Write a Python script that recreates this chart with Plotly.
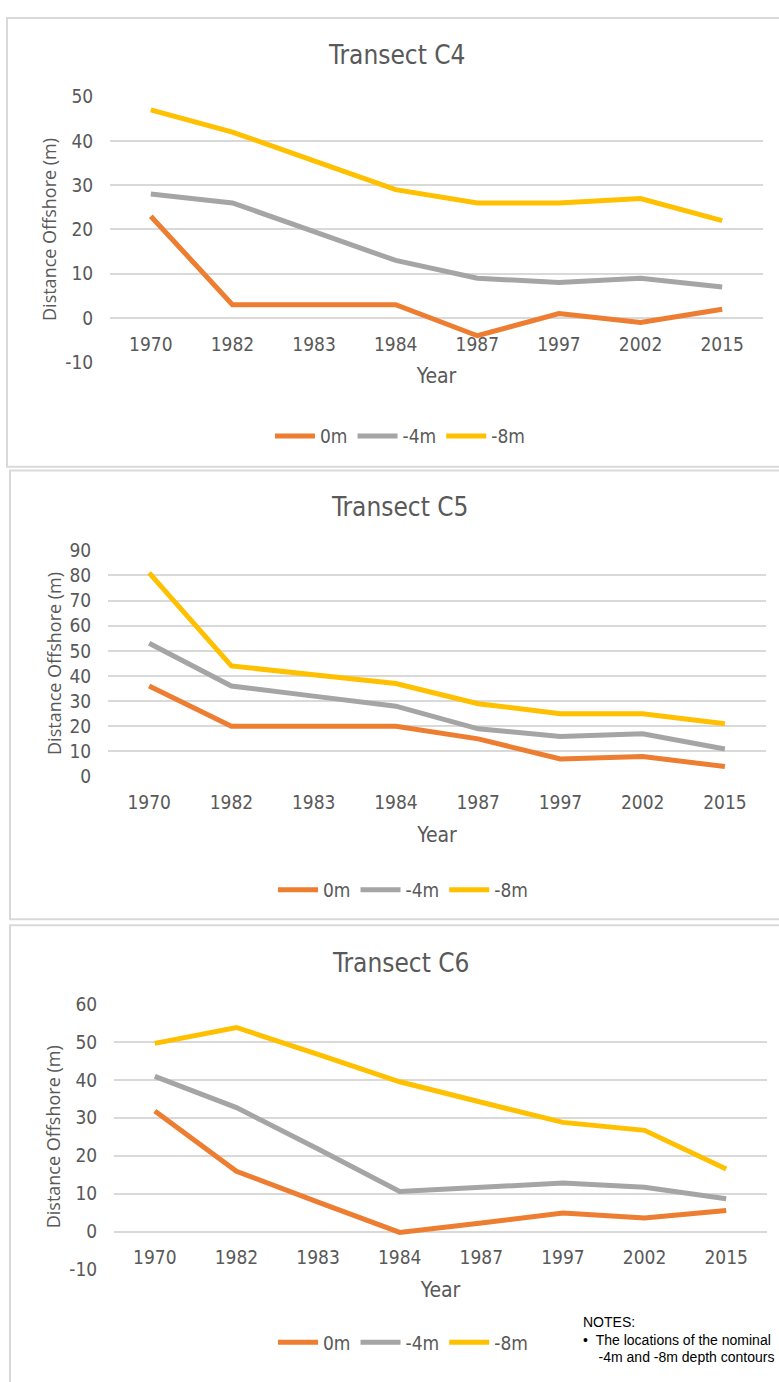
import plotly.graph_objects as go

# ---- data -------------------------------------------------------------
years = ["1970", "1982", "1983", "1984", "1987", "1997", "2002", "2015"]
depth_labels = ["0m", "-4m", "-8m"]

c4_0m = [23, 3, 3, 3, -4, 1, -1, 2]
c4_4m = [28, 26, 19.5, 13, 9, 8, 9, 7]
c4_8m = [47, 42, 35.5, 29, 26, 26, 27, 22]

c5_0m = [36, 20, 20, 20, 15, 7, 8, 4]
c5_4m = [53, 36, 32, 28, 19, 16, 17, 11]
c5_8m = [81, 44, 40.5, 37, 29, 25, 25, 21]

c6_0m = [31.8, 15.9, 7.8, -0.2, 2.3, 4.9, 3.6, 5.6]
c6_4m = [40.9, 32.7, 21.8, 10.6, 11.7, 12.8, 11.7, 8.7]
c6_8m = [49.6, 53.8, 46.7, 39.5, 34.1, 28.8, 26.7, 16.5]

titles = ["Transect C4", "Transect C5", "Transect C6"]
y_ranges = [(-10, 50), (0, 90), (-10, 60)]
notes = ["NOTES:",
         "\u2022  The locations of the nominal",
         "    -4m and -8m depth contours"]

# ---- styling ------------------------------------------------------------
W, H = 779, 1382
COLORS = ["#ED7D31", "#A5A5A5", "#FFC000"]
TXT = "#595959"
GRID = "#D9D9D9"
NARROW = "Liberation Sans Narrow, DejaVu Sans Condensed, Arial Narrow, sans-serif"
WIDE = "Open Sans, Noto Sans, sans-serif"


def px(x):
    return x / W


def py(y):
    return 1 - y / H


# pixel layout of each panel: frame, plot area, title, legend
panels = [
    dict(frame=(7, 7, 800, 463), plot=(110, 87, 763, 357), title=(397, 45), legend=(400, 432)),
    dict(frame=(10, 467, 800, 923), plot=(108, 548, 766, 778), title=(400, 504), legend=(403, 893)),
    dict(frame=(10, 929, 800, 1400), plot=(114, 1009, 767, 1279), title=(401, 967), legend=(403, 1353)),
]
series = [
    [c4_0m, c4_4m, c4_8m],
    [c5_0m, c5_4m, c5_8m],
    [c6_0m, c6_4m, c6_8m],
]

fig = go.Figure()
layout = dict(
    width=W, height=H,
    margin=dict(l=0, r=0, t=0, b=0),
    paper_bgcolor="white", plot_bgcolor="white",
    font=dict(family=NARROW, color=TXT, size=19),
    shapes=[], annotations=[],
)

for i, (panel, vals, title, yr) in enumerate(zip(panels, series, titles, y_ranges)):
    n = "" if i == 0 else str(i + 1)
    xa, ya = "x" + n, "y" + n
    leg = "legend" + n
    for label, v, c in zip(depth_labels, vals, COLORS):
        fig.add_trace(go.Scatter(
            x=years, y=v, name=label, mode="lines",
            line=dict(color=c, width=5, shape="linear"),
            xaxis=xa, yaxis=ya, legend=leg,
            hoverinfo="skip",
        ))

    x0, y0, x1, y1 = panel["plot"]
    zero_pos = py(y1 - (0 - yr[0]) / (yr[1] - yr[0]) * (y1 - y0))
    ytick_vals = list(range(yr[0], yr[1] + 1, 10))
    layout["xaxis" + n] = dict(
        domain=[px(x0), px(x1)], anchor="free", position=zero_pos,
        type="category", range=[-0.5, 7.5],
        showgrid=False, zeroline=False, showline=False,
        ticks="outside", ticklen=9, tickcolor="rgba(0,0,0,0)",
        tickfont=dict(family=NARROW, size=19, color=TXT),
        title=dict(text="Year", font=dict(family=NARROW, size=21, color=TXT), standoff=14),
        fixedrange=True,
    )
    layout["yaxis" + n] = dict(
        domain=[py(y1), py(y0)], anchor=xa,
        range=list(yr), tickmode="array", tickvals=ytick_vals,
        ticktext=[str(v) for v in ytick_vals],
        showgrid=True, gridcolor=GRID, gridwidth=1.5,
        zeroline=False, showline=False,
        ticks="outside", ticklen=12, tickcolor="rgba(0,0,0,0)",
        tickfont=dict(family=NARROW, size=19, color=TXT),
        title=dict(text="Distance Offshore (m)", font=dict(family=WIDE, size=18, color=TXT), standoff=3),
        fixedrange=True,
    )

    lx, ly = panel["legend"]
    layout[leg] = dict(
        orientation="h", x=px(lx), y=py(ly), xanchor="center", yanchor="middle",
        font=dict(family=NARROW, size=19, color=TXT),
        bgcolor="rgba(0,0,0,0)", itemwidth=40, tracegroupgap=0,
    )

    fx0, fy0, fx1, fy1 = panel["frame"]
    layout["shapes"].append(dict(
        type="rect", xref="paper", yref="paper",
        x0=px(fx0), x1=px(fx1), y0=py(fy1), y1=py(fy0),
        line=dict(color=GRID, width=2), fillcolor="rgba(0,0,0,0)", layer="below",
    ))

    tx, ty = panel["title"]
    layout["annotations"].append(dict(
        text=title, xref="paper", yref="paper", x=px(tx), y=py(ty),
        xanchor="center", yanchor="middle", showarrow=False,
        font=dict(family=NARROW, size=26, color=TXT),
    ))

# notes block at the lower right
for k, line in enumerate(notes):
    layout["annotations"].append(dict(
        text=line.replace(" ", "&nbsp;") if k else line,
        xref="paper", yref="paper", x=px(581), y=py(1332 + k * 18),
        xanchor="left", yanchor="middle", showarrow=False, align="left",
        font=dict(family="Liberation Sans, Arial, sans-serif", size=14, color="#000000"),
    ))

fig.update_layout(**layout)
fig.write_html("out.html")
